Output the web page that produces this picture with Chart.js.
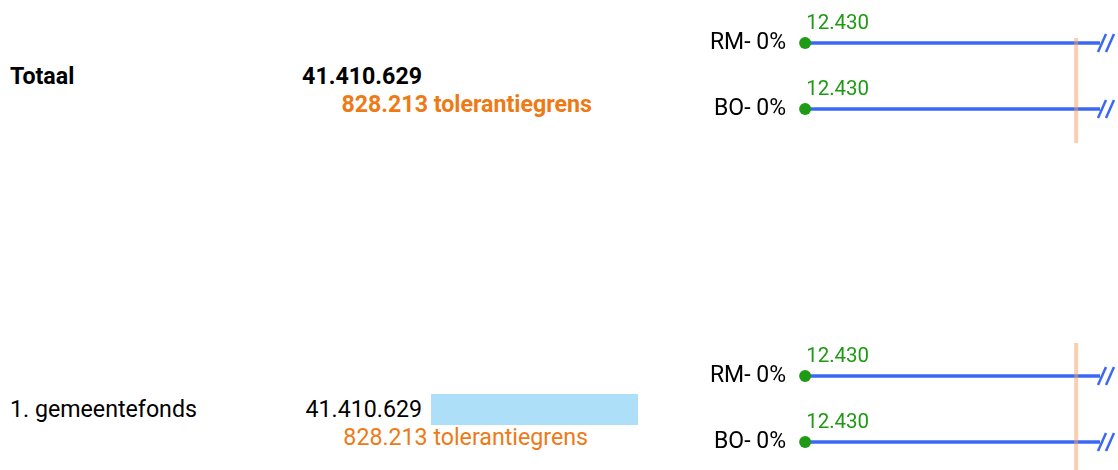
<!DOCTYPE html>
<html>
<head>
<meta charset="utf-8">
<script src="https://cdn.jsdelivr.net/npm/chart.js@4/dist/chart.umd.min.js"></script>
<style>
  html, body { margin: 0; padding: 0; background: #fff; }
  body { width: 1118px; height: 470px; position: relative; overflow: hidden; font-family: Roboto, "Noto Sans", sans-serif; }
  .txt { position: absolute; font-size: 23.2px; line-height: 28px; white-space: nowrap; }
  .lbl { left: 10px; color: #000; }
  .val { right: 696px; color: #000; text-align: right; }
  .tol { color: #ee7a16; text-align: right; }
  .bold { font-weight: bold; }
  .cv { position: absolute; }
</style>
</head>
<body>
<script>
// ---- data ----
const categories = ['Totaal', '1. gemeentefonds'];
const amounts = [41410629, 41410629];
const tolerances = [828213, 828213];
const showBar = [false, true];
const subLabels = ['RM- 0%', 'BO- 0%'];
const pointValues = [[12430, 12430], [12430, 12430]];
const upperValues = [[41410629, 41410629], [41410629, 41410629]];
const lineAxisMax = 900000;

// ---- layout / style ----
const blockTops = [10, 343];
const tolTopInset = [28, 0];
const fmt = v => v.toLocaleString('de-DE');
const BLUE = '#3a68f4', GREEN = '#1f9a14', ORANGE = '#ee7a16';

function addText(cls, text, top, extra) {
  const d = document.createElement('div');
  d.className = 'txt ' + cls;
  d.textContent = text;
  d.style.top = top + 'px';
  if (extra) Object.assign(d.style, extra);
  document.body.appendChild(d);
}
function addCanvas(left, top, w, h) {
  const c = document.createElement('canvas');
  c.className = 'cv';
  c.style.left = left + 'px'; c.style.top = top + 'px';
  c.style.width = w + 'px'; c.style.height = h + 'px';
  c.width = w; c.height = h;
  document.body.appendChild(c);
  return c;
}

const linePlugin = {
  id: 'linePlugin',
  afterDatasetsDraw(chart, args, opts) {
    const ctx = chart.ctx, xs = chart.scales.x, ys = chart.scales.y, ca = chart.chartArea;
    ctx.save();
    // tolerance line
    const tx = xs.getPixelForValue(opts.tol);
    ctx.strokeStyle = 'rgba(245,160,100,0.5)';
    ctx.lineWidth = 4;
    ctx.beginPath();
    ctx.moveTo(tx, ca.top + opts.inset);
    ctx.lineTo(tx, ca.bottom + 1);
    ctx.stroke();
    // break marks + labels
    subLabels.forEach((lab, i) => {
      const y = ys.getPixelForValue(i);
      if (opts.upper[i] > xs.max) {
        ctx.strokeStyle = BLUE; ctx.lineWidth = 2.5;
        [ca.right + 2, ca.right + 10].forEach(bx => {
          ctx.beginPath();
          ctx.moveTo(bx - 4, y + 9);
          ctx.lineTo(bx + 4, y - 9);
          ctx.stroke();
        });
      }
      ctx.font = '23px Roboto';
      ctx.fillStyle = '#000';
      ctx.textAlign = 'right'; ctx.textBaseline = 'middle';
      ctx.fillText(lab, xs.getPixelForValue(0) - 15, y);
      ctx.font = '20.5px Roboto';
      ctx.fillStyle = GREEN;
      ctx.textAlign = 'left'; ctx.textBaseline = 'middle';
      ctx.fillText(fmt(opts.points[i]), xs.getPixelForValue(opts.points[i]) + 1, y - 19);
    });
    ctx.restore();
  }
};

const maxAmount = Math.max(...amounts);

categories.forEach((cat, r) => {
  const top = blockTops[r];
  const mid = top + 66;
  const isTotal = r === 0;
  addText('lbl' + (isTotal ? ' bold' : ''), cat, mid - 14);
  addText('val' + (isTotal ? ' bold' : ''), fmt(amounts[r]), mid - 14);
  addText('tol' + (isTotal ? ' bold' : ''), fmt(tolerances[r]) + ' tolerantiegrens', mid + 14,
          { right: (isTotal ? 526 : 530) + 'px' });

  if (showBar[r]) {
    const bc = addCanvas(431, mid - 15, 207, 31);
    new Chart(bc, {
      type: 'bar',
      data: { labels: [cat], datasets: [{ data: [amounts[r]], backgroundColor: '#aedff8',
        barPercentage: 1, categoryPercentage: 1 }] },
      options: {
        indexAxis: 'y', responsive: false, animation: false,
        layout: { padding: 0, autoPadding: false },
        plugins: { legend: { display: false }, tooltip: { enabled: false } },
        scales: { x: { display: false, min: 0, max: maxAmount }, y: { display: false } }
      }
    });
  }

  const lc = addCanvas(690, top, 428, 140);
  new Chart(lc, {
    data: {
      labels: subLabels,
      datasets: [
        { type: 'bar', data: subLabels.map((_, i) => [pointValues[r][i], upperValues[r][i]]),
          backgroundColor: BLUE, barThickness: 3, grouped: false, order: 2 },
        { type: 'scatter', data: subLabels.map((l, i) => ({ x: pointValues[r][i], y: i })),
          backgroundColor: GREEN, borderColor: GREEN, borderWidth: 0, pointRadius: 6,
          clip: false, order: 1 }
      ]
    },
    options: {
      indexAxis: 'y', responsive: false, animation: false,
      layout: { padding: { left: 111, right: 18, top: 0, bottom: 8 }, autoPadding: false },
      plugins: { legend: { display: false }, tooltip: { enabled: false },
        linePlugin: { tol: tolerances[r], inset: tolTopInset[r], points: pointValues[r], upper: upperValues[r] } },
      scales: {
        x: { display: false, type: 'linear', min: 0, max: lineAxisMax },
        y: { display: false, type: 'category', offset: true }
      }
    },
    plugins: [linePlugin]
  });
});
</script>
</body>
</html>
